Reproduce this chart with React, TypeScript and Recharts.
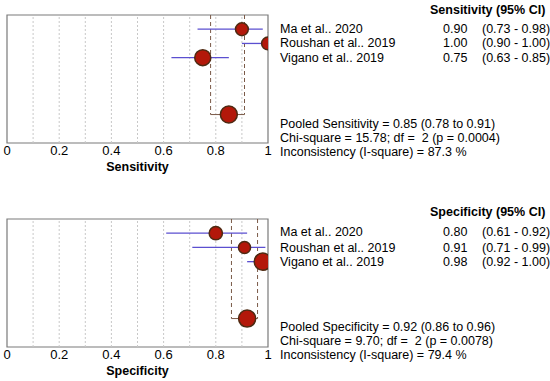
import React from "react";
import {
  ScatterChart,
  Scatter,
  XAxis,
  YAxis,
  ZAxis,
  ReferenceLine,
  ReferenceArea,
} from "recharts";

// ---------- data ----------
const studies = ["Ma et al.. 2020", "Roushan et al.. 2019", "Vigano et al.. 2019"];
const rowPos = [1, 2, 3];
const pooledRow = 7;

const sensEst = [0.9, 1.0, 0.75];
const sensLo = [0.73, 0.9, 0.63];
const sensHi = [0.98, 1.0, 0.85];
const sensWeight = [28, 28, 44];
const sensPooled = { est: 0.85, lo: 0.78, hi: 0.91, w: 49 };
const sensStats = [
  "Pooled Sensitivity = 0.85 (0.78 to 0.91)",
  "Chi-square = 15.78; df =  2 (p = 0.0004)",
  "Inconsistency (I-square) = 87.3 %",
];

const specEst = [0.8, 0.91, 0.98];
const specLo = [0.61, 0.71, 0.92];
const specHi = [0.92, 0.99, 1.0];
const specWeight = [30, 25, 50];
const specPooled = { est: 0.92, lo: 0.86, hi: 0.96, w: 50 };
const specStats = [
  "Pooled Specificity = 0.92 (0.86 to 0.96)",
  "Chi-square = 9.70; df =  2 (p = 0.0078)",
  "Inconsistency (I-square) = 79.4 %",
];

const xTicks = [0, 0.2, 0.4, 0.6, 0.8, 1];
const gridVals = [0.1, 0.2, 0.3, 0.4, 0.5, 0.6, 0.7, 0.8, 0.9];

const FONT = "'Liberation Sans', Arial, sans-serif";
const CI_COLOR = "#5b4fd0";
const POOL_COLOR = "#7a5a48";
const DOT_FILL = "#b3180a";
const DOT_STROKE = "#4e2a12";

const fmt2 = (v: number) => v.toFixed(2);

type PanelProps = {
  title: string;
  est: number[];
  lo: number[];
  hi: number[];
  weight: number[];
  pooled: { est: number; lo: number; hi: number; w: number };
};

function Panel({ title, est, lo, hi, weight, pooled }: PanelProps) {
  const pts = est.map((e, i) => ({ x: e, y: rowPos[i], w: weight[i] }));
  const pooledPts = [{ x: pooled.est, y: pooledRow, w: pooled.w }];
  return (
    <ScatterChart
      width={550}
      height={180}
      margin={{ top: 15, left: 7, right: 282, bottom: 7 }}
      style={{ fontFamily: FONT }}
    >
      <XAxis
        type="number"
        dataKey="x"
        domain={[0, 1]}
        ticks={xTicks}
        allowDataOverflow
        axisLine={false}
        tickLine={false}
        tickSize={0}
        tickMargin={3}
        height={30}
        interval={0}
        tick={{ fill: "#000", fontSize: 13, fontFamily: FONT }}
        label={{
          value: title,
          position: "insideBottom",
          offset: 2,
          style: { fill: "#000", fontSize: 12.5, fontWeight: "bold", fontFamily: FONT },
        }}
      />
      <YAxis type="number" dataKey="y" domain={[0, 9]} reversed hide />
      <ZAxis type="number" dataKey="w" domain={[0, 50]} range={[0, 230]} />
      {gridVals.map((g) => (
        <ReferenceLine key={g} x={g} stroke="#c8c8c8" strokeDasharray="2 2" strokeWidth={1} />
      ))}
      <ReferenceArea x1={0} x2={1} y1={0} y2={9} fill="none" stroke="#7a7a7a" strokeWidth={1.2} />
      <ReferenceLine
        segment={[{ x: pooled.lo, y: 0 }, { x: pooled.lo, y: pooledRow }]}
        stroke={POOL_COLOR}
        strokeDasharray="4 3"
      />
      <ReferenceLine
        segment={[{ x: pooled.hi, y: 0 }, { x: pooled.hi, y: pooledRow }]}
        stroke={POOL_COLOR}
        strokeDasharray="4 3"
      />
      <ReferenceLine
        segment={[{ x: pooled.lo, y: pooledRow }, { x: pooled.hi, y: pooledRow }]}
        stroke={POOL_COLOR}
      />
      {est.map((_, i) => (
        <ReferenceLine
          key={"ci" + i}
          segment={[{ x: lo[i], y: rowPos[i] }, { x: hi[i], y: rowPos[i] }]}
          stroke={CI_COLOR}
          strokeWidth={1.3}
        />
      ))}
      <Scatter
        data={pts}
        shape="circle"
        fill={DOT_FILL}
        stroke={DOT_STROKE}
        strokeWidth={1.5}
        isAnimationActive={false}
      />
      <Scatter
        data={pooledPts}
        shape="circle"
        fill={DOT_FILL}
        stroke={DOT_STROKE}
        strokeWidth={1.5}
        isAnimationActive={false}
      />
    </ScatterChart>
  );
}

const txt = (left: number, cy: number, s: string, bold = false, key?: string) => (
  <div
    key={key}
    style={{
      position: "absolute",
      left,
      top: cy - 7,
      height: 14,
      lineHeight: "14px",
      fontSize: 12.5,
      fontWeight: bold ? "bold" : "normal",
      whiteSpace: "pre",
      color: "#000",
      fontFamily: FONT,
    }}
  >
    {s}
  </div>
);

function TextBlock({
  top,
  header,
  est,
  lo,
  hi,
  rowYs,
  stats,
  statYs,
}: {
  top: number;
  header: string;
  est: number[];
  lo: number[];
  hi: number[];
  rowYs: number[];
  stats: string[];
  statYs: number[];
}) {
  return (
    <>
      {txt(430, top, header, true)}
      {studies.map((s, i) => (
        <React.Fragment key={s}>
          {txt(280, rowYs[i], s)}
          {txt(443, rowYs[i], fmt2(est[i]))}
          {txt(482, rowYs[i], `(${fmt2(lo[i])} - ${fmt2(hi[i])})`)}
        </React.Fragment>
      ))}
      {stats.map((s, i) => txt(280, statYs[i], s, false, "st" + i))}
    </>
  );
}

export default function App() {
  return (
    <div
      style={{
        position: "absolute",
        left: 0,
        top: 0,
        width: 550,
        height: 381,
        overflow: "hidden",
        background: "#fff",
      }}
    >
      <div style={{ position: "absolute", left: 0, top: 0 }}>
        <Panel
          title="Sensitivity"
          est={sensEst}
          lo={sensLo}
          hi={sensHi}
          weight={sensWeight}
          pooled={sensPooled}
        />
      </div>
      <div style={{ position: "absolute", left: 0, top: 204 }}>
        <Panel
          title="Specificity"
          est={specEst}
          lo={specLo}
          hi={specHi}
          weight={specWeight}
          pooled={specPooled}
        />
      </div>
      <TextBlock
        top={10}
        header="Sensitivity (95% CI)"
        est={sensEst}
        lo={sensLo}
        hi={sensHi}
        rowYs={[29, 43, 58]}
        stats={sensStats}
        statYs={[124, 138, 152]}
      />
      <TextBlock
        top={212}
        header="Specificity (95% CI)"
        est={specEst}
        lo={specLo}
        hi={specHi}
        rowYs={[232, 248, 262]}
        stats={specStats}
        statYs={[327, 341, 355]}
      />
    </div>
  );
}
